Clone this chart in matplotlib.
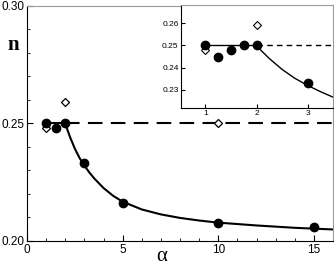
import matplotlib
matplotlib.use("Agg")
import matplotlib.pyplot as plt
from matplotlib.ticker import MultipleLocator

plt.rcParams['font.family'] = ['Liberation Sans', 'DejaVu Sans']

# simulation points (filled circles)
alpha_pts = [1, 1.5, 2, 3, 5, 10, 15]
n_pts = [0.250, 0.248, 0.250, 0.233, 0.216, 0.2078, 0.2058]

# inset points (finer spacing near alpha = 1..2)
alpha_in = [1, 1.25, 1.5, 1.75, 2, 3]
n_in = [0.250, 0.245, 0.248, 0.250, 0.250, 0.233]

# open diamonds
alpha_dia = [1, 2, 10]
n_dia = [0.248, 0.259, 0.250]

# theory curve
alpha_curve = [2, 2.1, 2.25, 2.5, 2.75, 3, 3.25, 3.5, 4, 4.5, 5, 6, 7, 8, 9, 10, 12, 14, 16]
n_curve = [0.2500, 0.2475, 0.2441, 0.2392, 0.2352, 0.2320, 0.2292, 0.2267, 0.2225,
           0.2192, 0.2167, 0.2134, 0.2113, 0.2098, 0.2087, 0.2078, 0.2066, 0.2056, 0.2049]

plateau_x = [1, 2]
plateau_n = [0.25, 0.25]
dash_x = [2, 16]
dash_n = [0.25, 0.25]

fig = plt.figure(figsize=(3.34, 2.66), dpi=100)
ax = fig.add_axes([0.081, 0.094, 0.916, 0.885])

ax.plot(alpha_curve, n_curve, color='black', lw=1.5)
ax.plot(plateau_x, plateau_n, color='black', lw=1.5)
ax.plot(dash_x, dash_n, color='black', lw=1.5, dashes=(7, 4))
ax.plot(alpha_dia, n_dia, ls='none', marker='D', ms=4.5, mfc='white', mec='black', mew=0.9, zorder=3)
ax.plot(alpha_pts, n_pts, ls='none', marker='o', ms=6, color='black', zorder=4)

ax.set_xlim(0, 16)
ax.set_ylim(0.20, 0.30)
ax.xaxis.set_major_locator(MultipleLocator(5))
ax.xaxis.set_minor_locator(MultipleLocator(1))
ax.yaxis.set_major_locator(MultipleLocator(0.05))
ax.yaxis.set_minor_locator(MultipleLocator(0.01))
ax.yaxis.set_major_formatter(plt.FuncFormatter(lambda v, p: f"{v:.2f}"))
ax.tick_params(which='both', direction='in', labelsize=8.5)
ax.tick_params(axis='y', pad=1.5)
ax.tick_params(axis='x', pad=2)
ax.tick_params(which='major', length=4)
ax.tick_params(which='minor', length=2.5)
for s in ['top', 'right']:
    ax.spines[s].set_color('#999999')
    ax.spines[s].set_linewidth(0.8)
ax.tick_params(top=False, right=False)

fig.text(0.04, 0.83, 'n', fontsize=15, fontweight='bold', family='Liberation Serif', ha='center', va='center')
fig.text(0.485, 0.035, 'α', fontsize=15, family='Liberation Serif', ha='center', va='center')

# inset
axi = fig.add_axes([0.541, 0.595, 0.457, 0.385])
axi.plot(alpha_curve, n_curve, color='black', lw=1.0)
axi.plot(plateau_x, plateau_n, color='black', lw=1.0)
axi.plot(dash_x, dash_n, color='black', lw=1.0, dashes=(4, 3))
axi.plot(alpha_dia[:2], n_dia[:2], ls='none', marker='D', ms=4.5, mfc='white', mec='black', mew=0.8, zorder=3)
axi.plot(alpha_in, n_in, ls='none', marker='o', ms=6, color='black', zorder=4)
axi.set_xlim(0.52, 3.5)
axi.set_ylim(0.222, 0.268)
axi.set_xticks([1, 2, 3])
axi.set_yticks([0.23, 0.24, 0.25, 0.26])
axi.yaxis.set_major_formatter(plt.FuncFormatter(lambda v, p: f"{v:.2f}"))
axi.tick_params(direction='in', labelsize=6, length=3, pad=1.5)
for s in ['top', 'right']:
    axi.spines[s].set_color('#999999')
    axi.spines[s].set_linewidth(0.8)

fig.savefig('out.png', dpi=100)
